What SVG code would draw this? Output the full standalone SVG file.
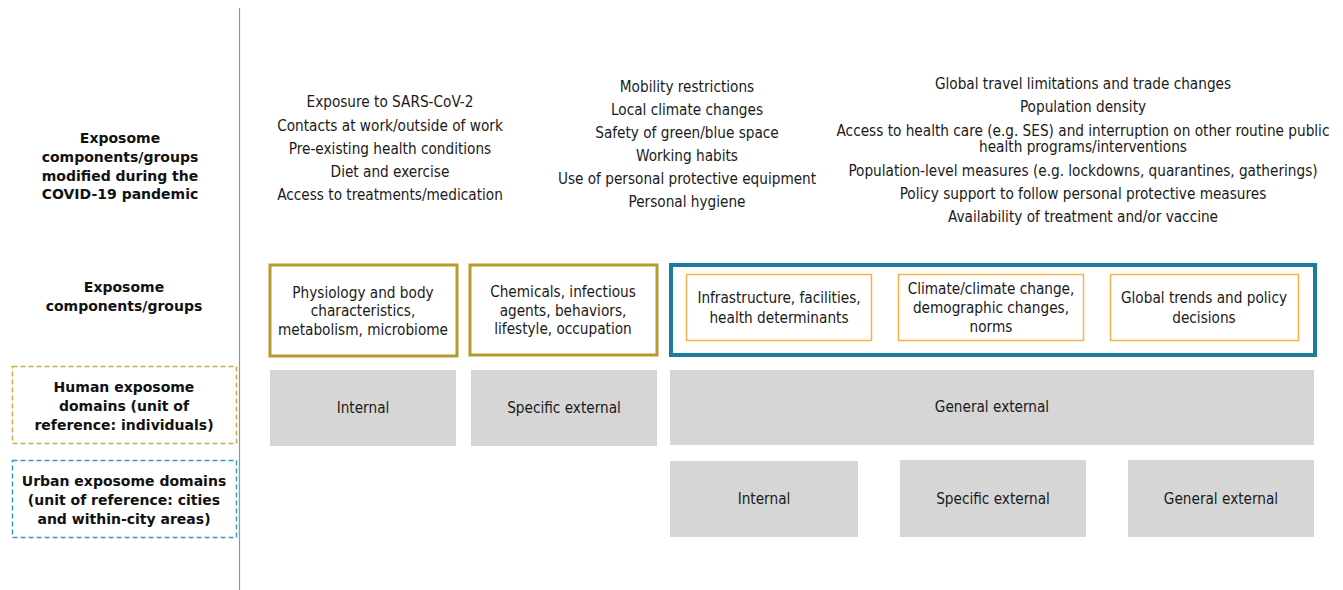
<svg xmlns="http://www.w3.org/2000/svg" width="1343" height="590" viewBox="0 0 1343 590">
  <style>
    .lbl { font-family: "DejaVu Sans", "Liberation Sans", sans-serif; font-weight: bold; font-size: 14px; fill: #111; text-anchor: middle; }
    .txt { font-family: "DejaVu Sans Condensed", "DejaVu Sans", sans-serif; font-stretch: condensed; font-size: 15.2px; fill: #1a1a1a; text-anchor: middle; }
    .gold { fill: #fff; stroke: #b39b2c; stroke-width: 3; }
    .teal { fill: none; stroke: #1a7d9e; stroke-width: 4; }
    .orange { fill: #fff; stroke: #f4b345; stroke-width: 1.5; }
    .grey { fill: #d6d6d6; }
    .dash-gold { fill: none; stroke: #c7ad4e; stroke-width: 1.5; stroke-dasharray: 5 3; }
    .dash-teal { fill: none; stroke: #3a9cb9; stroke-width: 1.5; stroke-dasharray: 5 3; }
  </style>

  <rect width="1343" height="590" fill="#fff"/>

  <!-- divider between row labels and content -->
  <g id="connectors">
    <line x1="239.5" y1="8" x2="239.5" y2="590" stroke="#8d92ad" stroke-width="1.2"/>
  </g>

  <!-- row labels -->
  <g id="label-modified">
    <text class="lbl" x="120" y="143">Exposome</text>
    <text class="lbl" x="120" y="162">components/groups</text>
    <text class="lbl" x="120" y="181">modified during the</text>
    <text class="lbl" x="120" y="199">COVID-19 pandemic</text>
  </g>
  <g id="label-groups">
    <text class="lbl" x="124" y="292">Exposome</text>
    <text class="lbl" x="124" y="311">components/groups</text>
  </g>
  <g id="label-human">
    <rect class="dash-gold" x="12.5" y="366.5" width="224" height="77"/>
    <text class="lbl" x="124" y="392">Human exposome</text>
    <text class="lbl" x="124" y="411">domains (unit of</text>
    <text class="lbl" x="124" y="430">reference: individuals)</text>
  </g>
  <g id="label-urban">
    <rect class="dash-teal" x="12.5" y="460.5" width="224" height="77"/>
    <text class="lbl" x="124" y="486">Urban exposome domains</text>
    <text class="lbl" x="124" y="505">(unit of reference: cities</text>
    <text class="lbl" x="124" y="524">and within-city areas)</text>
  </g>

  <!-- factors modified during the pandemic -->
  <g id="modified-internal">
    <text class="txt" x="390" y="107">Exposure to SARS-CoV-2</text>
    <text class="txt" x="390" y="131">Contacts at work/outside of work</text>
    <text class="txt" x="390" y="154">Pre-existing health conditions</text>
    <text class="txt" x="390" y="177">Diet and exercise</text>
    <text class="txt" x="390" y="200">Access to treatments/medication</text>
  </g>
  <g id="modified-specific">
    <text class="txt" x="687" y="92">Mobility restrictions</text>
    <text class="txt" x="687" y="115">Local climate changes</text>
    <text class="txt" x="687" y="138">Safety of green/blue space</text>
    <text class="txt" x="687" y="161">Working habits</text>
    <text class="txt" x="687" y="184">Use of personal protective equipment</text>
    <text class="txt" x="687" y="207">Personal hygiene</text>
  </g>
  <g id="modified-general">
    <text class="txt" x="1083" y="89">Global travel limitations and trade changes</text>
    <text class="txt" x="1083" y="112">Population density</text>
    <text class="txt" x="1083" y="136">Access to health care (e.g. SES) and interruption on other routine public</text>
    <text class="txt" x="1083" y="152">health programs/interventions</text>
    <text class="txt" x="1083" y="176">Population-level measures (e.g. lockdowns, quarantines, gatherings)</text>
    <text class="txt" x="1083" y="199">Policy support to follow personal protective measures</text>
    <text class="txt" x="1083" y="222">Availability of treatment and/or vaccine</text>
  </g>

  <!-- exposome components/groups -->
  <g id="group-physiology">
    <rect class="gold" x="270" y="265" width="187" height="91"/>
    <text class="txt" x="363" y="298">Physiology and body</text>
    <text class="txt" x="363" y="316">characteristics,</text>
    <text class="txt" x="363" y="335">metabolism, microbiome</text>
  </g>
  <g id="group-chemicals">
    <rect class="gold" x="470" y="265" width="187" height="90"/>
    <text class="txt" x="563" y="297">Chemicals, infectious</text>
    <text class="txt" x="563" y="316">agents, behaviors,</text>
    <text class="txt" x="563" y="334">lifestyle, occupation</text>
  </g>
  <g id="group-general">
    <rect class="teal" x="671" y="265" width="644" height="90"/>
  </g>
  <g id="group-infrastructure">
    <rect class="orange" x="686.5" y="274.5" width="185" height="66"/>
    <text class="txt" x="779" y="303">Infrastructure, facilities,</text>
    <text class="txt" x="779" y="323">health determinants</text>
  </g>
  <g id="group-climate">
    <rect class="orange" x="898.5" y="274.5" width="185" height="66"/>
    <text class="txt" x="991" y="294">Climate/climate change,</text>
    <text class="txt" x="991" y="313">demographic changes,</text>
    <text class="txt" x="991" y="332">norms</text>
  </g>
  <g id="group-global">
    <rect class="orange" x="1110.5" y="274.5" width="188" height="66"/>
    <text class="txt" x="1204" y="303">Global trends and policy</text>
    <text class="txt" x="1204" y="323">decisions</text>
  </g>

  <!-- human exposome domains -->
  <g id="human-internal">
    <rect class="grey" x="270" y="370" width="186" height="76"/>
    <text class="txt" x="363" y="413">Internal</text>
  </g>
  <g id="human-specific">
    <rect class="grey" x="471" y="370" width="186" height="76"/>
    <text class="txt" x="564" y="413">Specific external</text>
  </g>
  <g id="human-general">
    <rect class="grey" x="670" y="370" width="644" height="75"/>
    <text class="txt" x="992" y="412">General external</text>
  </g>

  <!-- urban exposome domains -->
  <g id="urban-internal">
    <rect class="grey" x="670" y="461" width="188" height="76"/>
    <text class="txt" x="764" y="504">Internal</text>
  </g>
  <g id="urban-specific">
    <rect class="grey" x="900" y="460" width="186" height="77"/>
    <text class="txt" x="993" y="504">Specific external</text>
  </g>
  <g id="urban-general">
    <rect class="grey" x="1128" y="460" width="186" height="77"/>
    <text class="txt" x="1221" y="504">General external</text>
  </g>
</svg>
